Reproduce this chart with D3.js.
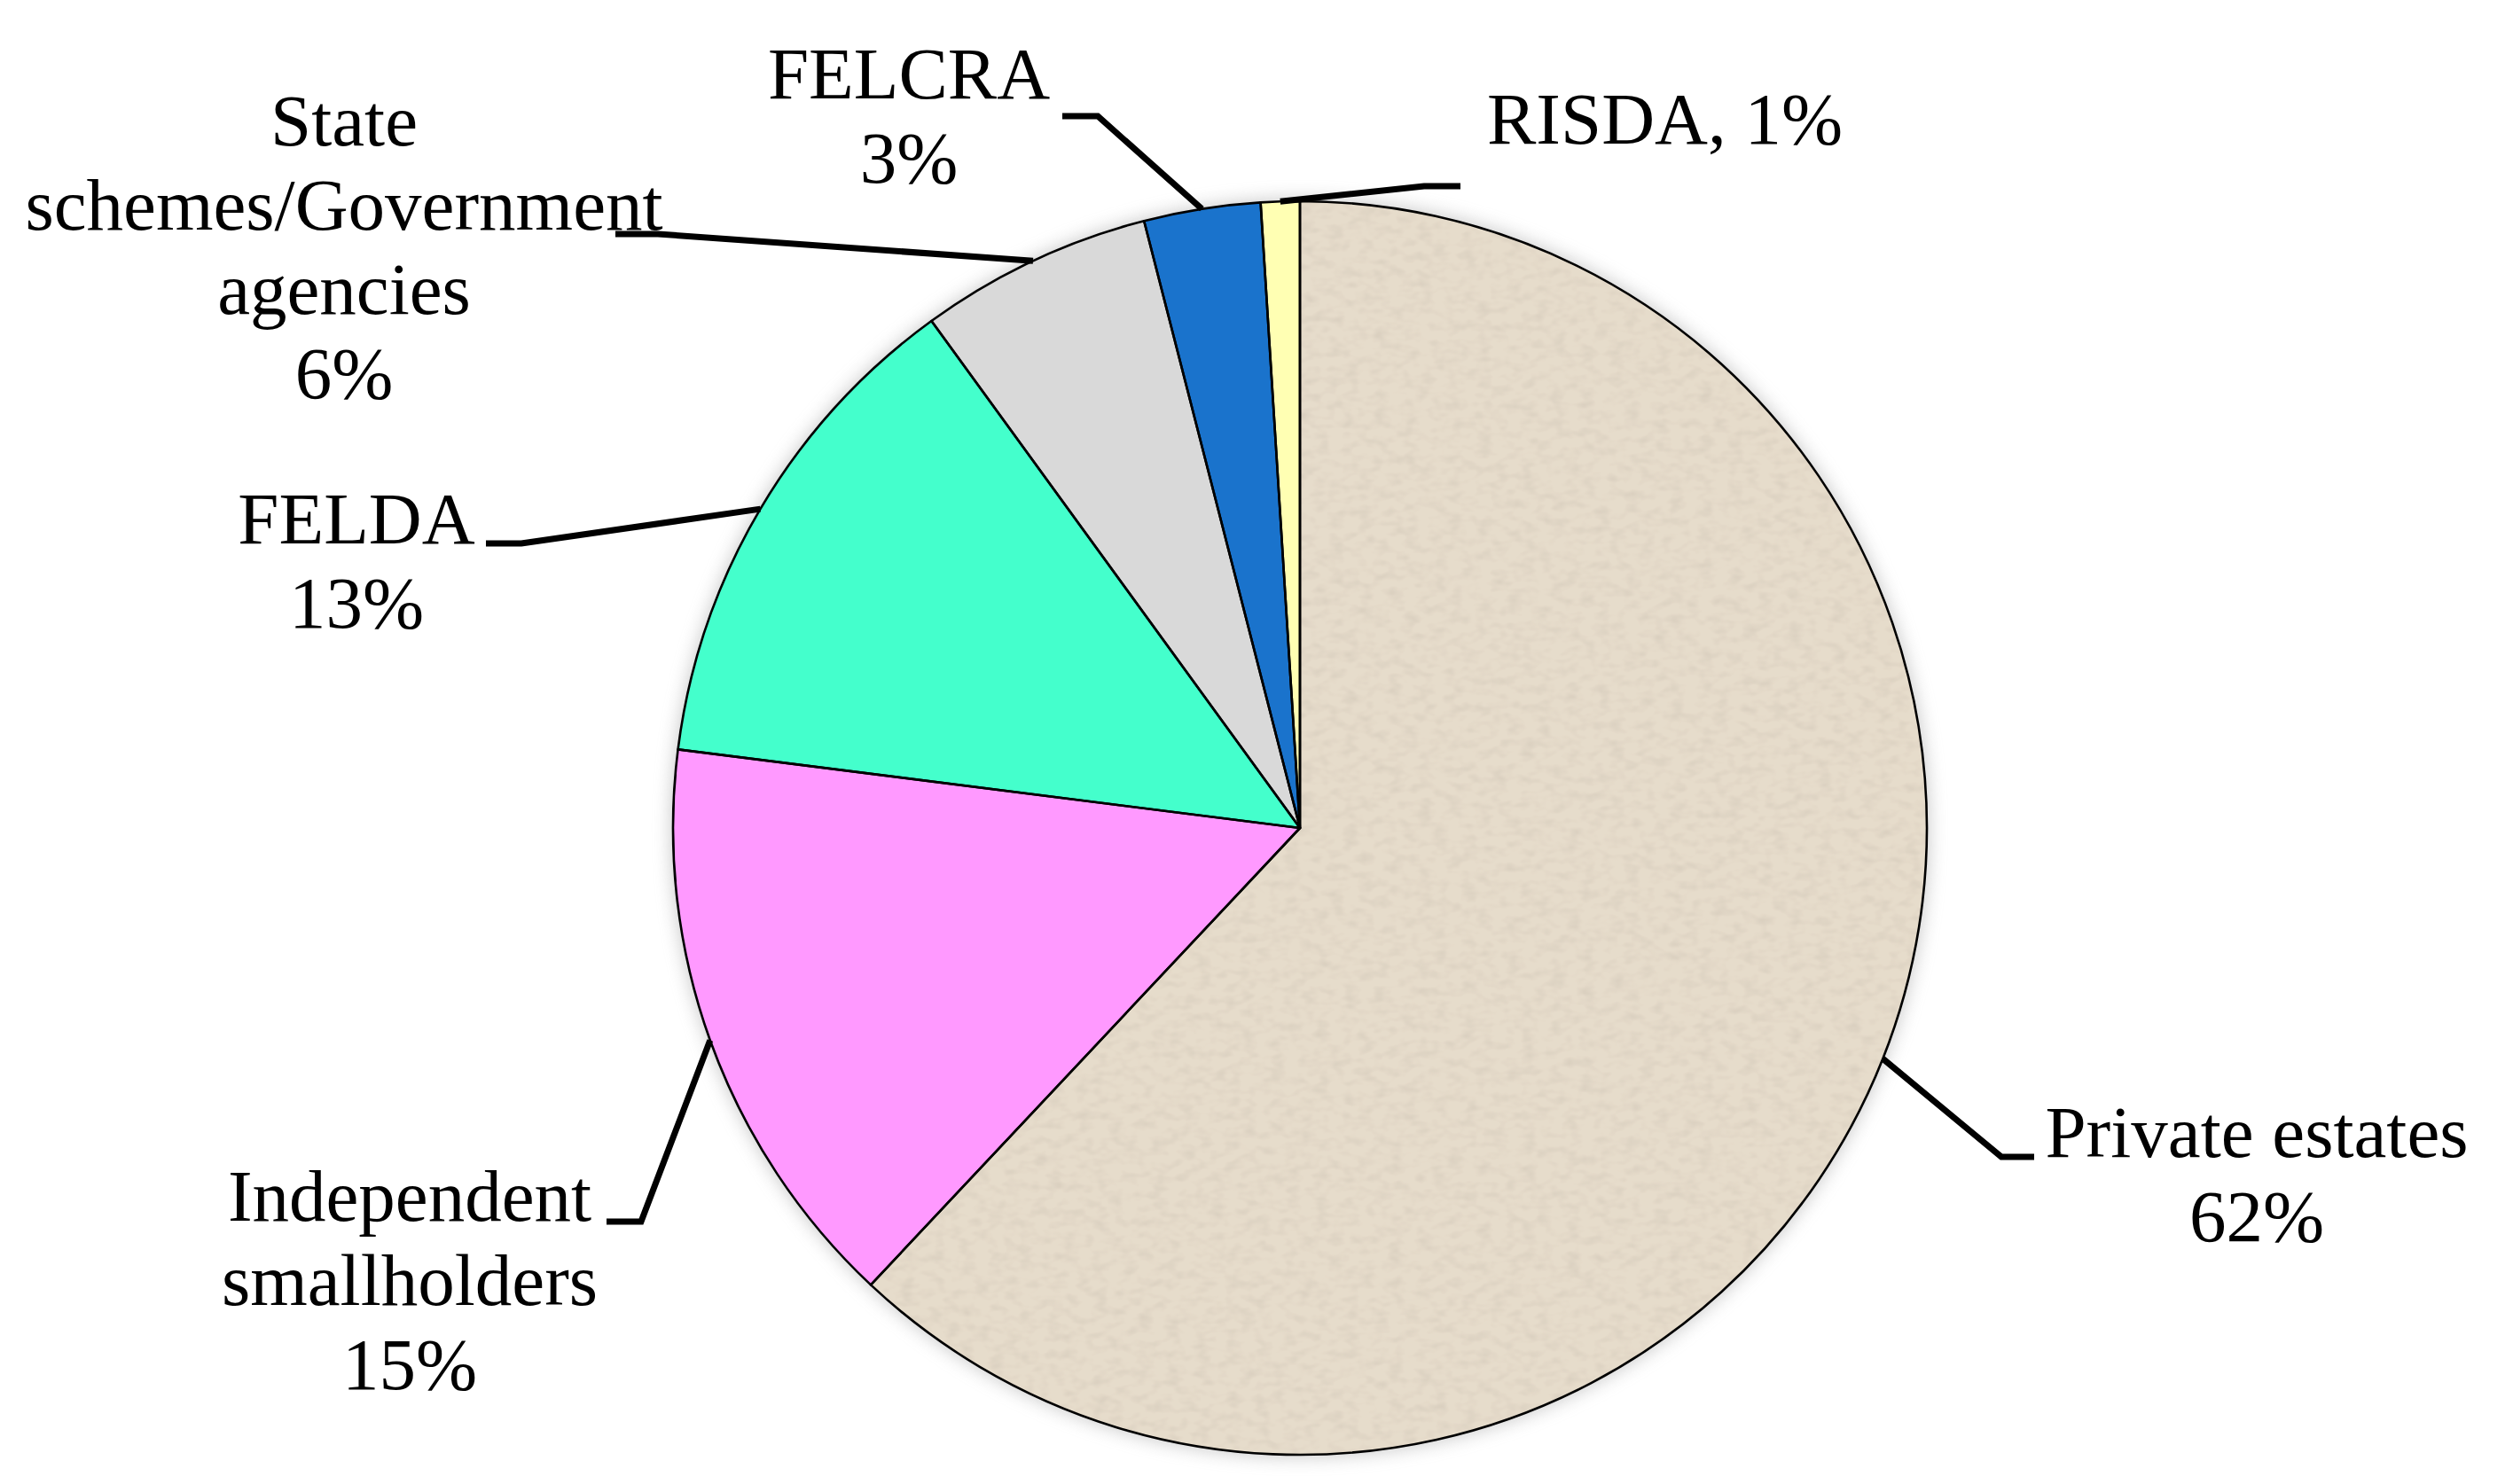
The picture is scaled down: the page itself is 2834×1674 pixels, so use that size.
<!DOCTYPE html>
<html>
<head>
<meta charset="utf-8">
<script src="https://d3js.org/d3.v7.min.js"></script>
<style>
  body { margin: 0; background: #fff; }
  svg text { font-family: "Liberation Serif", "Times New Roman", serif; font-size: 83px; fill: #000; }
</style>
</head>
<body>
<div id="chart"></div>
<script>

  // Data
  var categories = ["Private estates", "Independent smallholders", "FELDA",
                    "State schemes/Government agencies", "FELCRA", "RISDA"];
  var shares = [62, 15, 13, 6, 3, 1];
  var labelLines = [
    ["Private estates", "62%"],
    ["Independent", "smallholders", "15%"],
    ["FELDA", "13%"],
    ["State", "schemes/Government", "agencies", "6%"],
    ["FELCRA", "3%"],
    ["RISDA, 1%"]
  ];

  // Styles and label placement
  var colors = ["#e6dccb", "#ff99ff", "#44ffcc", "#d9d9d9", "#1a73cc", "#ffffb3"];
  var labelLayout = [
    {x: 2545, y: 1305, anchor: "middle", elbow: [2257, 1305], end: [2294, 1305]},
    {x: 462,  y: 1377, anchor: "middle", elbow: [723, 1378],  end: [684, 1378]},
    {x: 402,  y: 613,  anchor: "middle", elbow: [588, 613],   end: [548, 613]},
    {x: 388,  y: 164,  anchor: "middle", elbow: [742, 264],   end: [694, 264]},
    {x: 1025, y: 111,  anchor: "middle", elbow: [1238, 131],  end: [1198, 131]},
    {x: 1677, y: 162,  anchor: "start",  elbow: [1606, 210],  end: [1647, 210]}
  ];

  var width = 2834, height = 1674;
  var cx = 1466, cy = 934, radius = 707, lineHeight = 95;

  var svg = d3.select("#chart")
    .append("svg")
      .attr("width", width)
      .attr("height", height);

  var defs = svg.append("defs");

  // soft glow behind the pie
  var glow = defs.append("filter")
      .attr("id", "glow")
      .attr("x", "-10%").attr("y", "-10%")
      .attr("width", "120%").attr("height", "120%");
  glow.append("feGaussianBlur").attr("stdDeviation", 11);

  // canvas-like grain for the private estates slice
  var grain = defs.append("filter")
      .attr("id", "grain")
      .attr("x", "0").attr("y", "0")
      .attr("width", "100%").attr("height", "100%");
  grain.append("feTurbulence")
      .attr("type", "fractalNoise")
      .attr("baseFrequency", "0.06 0.1")
      .attr("numOctaves", 2)
      .attr("seed", 4)
      .attr("result", "noise");
  grain.append("feColorMatrix")
      .attr("in", "noise")
      .attr("type", "matrix")
      .attr("values", "0 0 0 0 0.62  0 0 0 0 0.55  0 0 0 0 0.46  1.1 0 0 0 -0.48")
      .attr("result", "spots");
  grain.append("feComposite")
      .attr("in", "spots")
      .attr("in2", "SourceGraphic")
      .attr("operator", "in")
      .attr("result", "clipped");
  var merge = grain.append("feMerge");
  merge.append("feMergeNode").attr("in", "SourceGraphic");
  merge.append("feMergeNode").attr("in", "clipped");

  var data = categories.map(function(c, i) {
    return {name: c, value: shares[i], color: colors[i], lines: labelLines[i], layout: labelLayout[i]};
  });

  var pie = d3.pie()
    .sort(null)
    .value(function(d) { return d.value; });

  var arc = d3.arc()
    .innerRadius(0)
    .outerRadius(radius);

  var arcs = pie(data);

  var g = svg.append("g")
    .attr("transform", "translate(" + cx + "," + cy + ")");

  // shadow
  g.append("g")
    .attr("filter", "url(#glow)")
    .attr("opacity", 0.55)
    .selectAll("path")
    .data(arcs)
    .enter()
    .append("path")
      .attr("d", arc)
      .attr("fill", "#8a8a8a");

  // fills
  g.append("g")
    .selectAll("path")
    .data(arcs)
    .enter()
    .append("path")
      .attr("d", arc)
      .attr("fill", function(d) { return d.data.color; })
      .attr("filter", function(d, i) { return i === 0 ? "url(#grain)" : null; });

  // outlines
  g.append("g")
    .selectAll("path")
    .data(arcs)
    .enter()
    .append("path")
      .attr("d", arc)
      .attr("fill", "none")
      .attr("stroke", "#000")
      .attr("stroke-width", 2.6)
      .attr("stroke-linejoin", "round");

  // leader lines from the middle of each slice's rim
  var rimPoint = function(d) {
    var a = (d.startAngle + d.endAngle) / 2;
    return [cx + radius * Math.sin(a), cy - radius * Math.cos(a)];
  };

  svg.append("g")
    .selectAll("polyline")
    .data(arcs)
    .enter()
    .append("polyline")
      .attr("points", function(d) {
        var p = rimPoint(d);
        return [p, d.data.layout.elbow, d.data.layout.end].map(function(q) { return q.join(","); }).join(" ");
      })
      .attr("fill", "none")
      .attr("stroke", "#000")
      .attr("stroke-width", 7)
      .attr("stroke-linejoin", "miter");

  // labels
  var labels = svg.append("g")
    .selectAll("text")
    .data(arcs)
    .enter()
    .append("text")
      .attr("text-anchor", function(d) { return d.data.layout.anchor; });

  labels.selectAll("tspan")
    .data(function(d) {
      return d.data.lines.map(function(t, k) { return {text: t, k: k, layout: d.data.layout}; });
    })
    .enter()
    .append("tspan")
      .attr("x", function(t) { return t.layout.x; })
      .attr("y", function(t) { return t.layout.y + t.k * lineHeight; })
      .text(function(t) { return t.text; });

</script>
</body>
</html>
